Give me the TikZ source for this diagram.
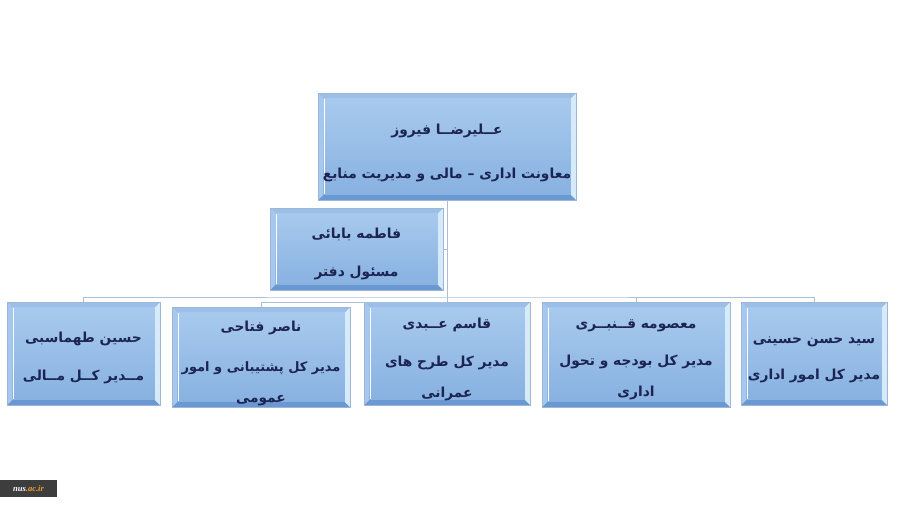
\documentclass[tikz,border=0pt]{standalone}
\usepackage{fontspec}
\TeXXeTstate=1
\newfontfamily\arabicfont[Script=Arabic]{DejaVu Sans}
\newfontfamily\logofont{Liberation Serif}
\newcommand\pers[1]{\beginR #1\endR}
\newcommand\liftline[1]{\rule{0pt}{#1}}
\definecolor{boxtop}{HTML}{AACBEF}
\definecolor{boxbot}{HTML}{86B0E0}
\definecolor{boxline}{HTML}{9DB6D3}
\definecolor{bevdark}{HTML}{6A98D2}
\definecolor{bevlight}{HTML}{D6EAFA}
\definecolor{bevtop}{HTML}{9CBFE8}
\definecolor{bevleft}{HTML}{A6C8EE}
\definecolor{navy}{HTML}{1C2452}
\definecolor{connc}{HTML}{A9C0DC}
\definecolor{logogray}{HTML}{3D3D3D}
\definecolor{logoorange}{HTML}{F0A030}
\begin{document}
\begin{tikzpicture}[x=1pt,y=-1pt,
  orgbox/.style={draw=boxline, line width=0.8pt, top color=boxtop, bottom color=boxbot,
    inner sep=0pt, align=center, text=navy,
    font=\arabicfont\bfseries\fontsize{13.8}{31}\selectfont,
    path picture={
      \fill[bevdark] (path picture bounding box.south west) -- (path picture bounding box.south east)
        -- ([xshift=-5pt,yshift=5pt]path picture bounding box.south east)
        -- ([xshift=5pt,yshift=5pt]path picture bounding box.south west) -- cycle;
      \fill[bevlight] (path picture bounding box.south east) -- (path picture bounding box.north east)
        -- ([xshift=-5pt,yshift=-5pt]path picture bounding box.north east)
        -- ([xshift=-5pt,yshift=5pt]path picture bounding box.south east) -- cycle;
      \fill[bevtop] (path picture bounding box.north west) -- (path picture bounding box.north east)
        -- ([xshift=-5pt,yshift=-5pt]path picture bounding box.north east)
        -- ([xshift=5pt,yshift=-5pt]path picture bounding box.north west) -- cycle;
      \fill[bevleft] (path picture bounding box.south west) -- (path picture bounding box.north west)
        -- ([xshift=5pt,yshift=-5pt]path picture bounding box.north west)
        -- ([xshift=5pt,yshift=5pt]path picture bounding box.south west) -- cycle;
      \draw[white, line width=1pt] ([xshift=6pt,yshift=-6pt]path picture bounding box.north west)
        -- ([xshift=6pt,yshift=6pt]path picture bounding box.south west);
    }},
  conn/.style={draw=connc, line width=0.9pt}]
\useasboundingbox (0,0) rectangle (900,506);

\node[orgbox, minimum width=258, minimum height=107] (top) at (447,146.5)
  {\liftline{24pt}\pers{عــلیرضــا فیروز}\\[13pt]\pers{معاونت اداری – مالی و مدیریت منابع}};
\node[orgbox, minimum width=173, minimum height=82] (fatemeh) at (356.5,249)
  {\liftline{20pt}\pers{فاطمه بابائی}\\[7pt]\pers{مسئول دفتر}};
\node[orgbox, minimum width=153, minimum height=103] (hossein) at (83.5,353.5)
  {\liftline{20pt}\pers{حسین طهماسبی}\\[7pt]\pers{مــدیر کــل مــالی}};
\node[orgbox, minimum width=178, minimum height=100] (naser) at (261,357)
  {\liftline{24pt}\pers{ناصر فتاحی}\\[9pt]{\fontsize{13}{31}\selectfont\pers{مدیر کل پشتیبانی و امور}}\\\pers{عمومی}};
\node[orgbox, minimum width=166, minimum height=103] (ghasem) at (447,353.5)
  {\liftline{22pt}\pers{قاسم عــبدی}\\[7pt]\pers{مدیر کل طرح های}\\\pers{عمرانی}};
\node[orgbox, minimum width=188, minimum height=105] (masoumeh) at (636,354.5)
  {\liftline{20pt}\pers{معصومه قــنبــری}\\[6pt]\pers{مدیر کل بودجه و تحول}\\\pers{اداری}};
\node[orgbox, minimum width=146, minimum height=103] (seyed) at (814,353.5)
  {\liftline{20pt}\pers{سید حسن حسینی}\\[5pt]\pers{مدیر کل امور اداری}};

\coordinate (bus) at (447,297);
\coordinate (busn) at (447,302);

\draw[conn] (top.south) -- (ghasem.north);
\draw[conn] (fatemeh.east) -- (fatemeh.east -| top.south);
\draw[conn] (hossein.north) |- (bus) -| (seyed.north);
\draw[conn] (masoumeh.north) -- (masoumeh.north |- bus);
\draw[conn] (naser.north) |- (busn);

\node[fill=logogray, minimum width=57, minimum height=17, inner sep=0pt,
  font=\logofont\bfseries\itshape\fontsize{8.5}{9}\selectfont] (logo) at (28.5,488.5)
  {\textcolor{white}{nus}\textcolor{logoorange}{.ac.ir}};
\end{tikzpicture}
\end{document}
